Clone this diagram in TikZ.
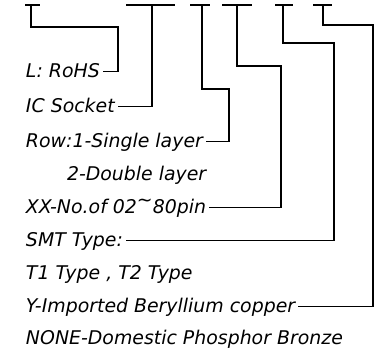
\documentclass[tikz,border=0pt]{standalone}
\usepackage{fontspec}
\setmainfont{DejaVu Sans}
\begin{document}
\begin{tikzpicture}[x=1pt,y=-1pt,
  lbl/.style={anchor=base west,inner sep=0pt,outer xsep=3pt,outer ysep=0pt,
    text height=13.8pt,text depth=0pt,font=\fontsize{18.9}{22}\selectfont\itshape},
  ln/.style={line width=1.1pt}]
 \useasboundingbox (0,0) rectangle (381,350);
 % part number fields
 \foreach \a/\b/\s [count=\i] in {25/40/31,126/175/152,190/210/202,222/252/237,275/293/283,313/332/323}
  {\draw[ln] (\a,5) -- (\b,5); \coordinate (s\i) at (\s,5);}
 % descriptions
 \node[lbl] (rohs)   at (23,78)  {L: RoHS};
 \node[lbl] (socket) at (23,113) {IC Socket};
 \node[lbl] (row)    at (23,148) {Row:1-Single layer};
 \node[lbl] (double) at (64,181) {2-Double layer};
 \node[lbl] (pins)   at (23,214) {XX-No.of 02\raisebox{0.4em}{\textasciitilde}80pin};
 \node[lbl] (smt)    at (23,247) {SMT Type:};
 \node[lbl] (types)  at (23,280) {T1 Type , T2 Type};
 \node[lbl] (mat)    at (23,313) {Y-Imported Beryllium copper};
 \node[lbl] (bronze) at (23,345) {NONE-Domestic Phosphor Bronze};
 % leaders
 \draw[ln] (s1) |- (118,27) |- (rohs.east);
 \draw[ln] (s2) |- (socket.east);
 \draw[ln] (s3) |- (229,89) |- (row.east);
 \draw[ln] (s4) |- (281,66) |- (pins.east);
 \draw[ln] (s5) |- (334,43) |- (smt.east);
 \draw[ln] (s6) |- (373,25) |- (mat.east);
\end{tikzpicture}
\end{document}
